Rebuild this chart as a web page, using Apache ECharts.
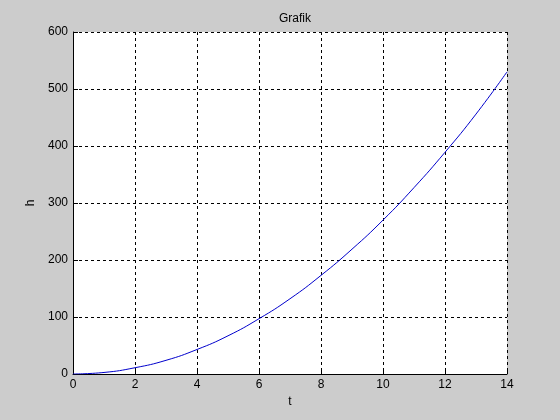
<!DOCTYPE html>
<html>
<head>
<meta charset="utf-8">
<script src="https://cdn.jsdelivr.net/npm/echarts@6/dist/echarts.min.js"></script>
<style>
    html, body { margin: 0; padding: 0; background: #cccccc; }
    #chart { width: 560px; height: 420px; }
</style>
</head>
<body>
<div id="chart"></div>
<script>
// values
const tValues = [0, 1, 2, 3, 4, 5, 6, 7, 8, 9, 10, 11, 12, 13, 14];
const hValues = [0, 2.7, 11, 24, 43, 67, 97, 132, 173, 219, 270, 327, 389, 456, 530];
const xTicks = [0, 2, 4, 6, 8, 10, 12, 14];
const yTicks = [0, 100, 200, 300, 400, 500, 600];

const font = 'Liberation Sans, Arial, sans-serif';
const chart = echarts.init(document.getElementById('chart'));

const dashed = { show: true, lineStyle: { color: '#000', type: [3, 3], width: 1 } };

chart.setOption({
    backgroundColor: '#cccccc',
    animation: false,
    title: {
        text: 'Grafik',
        left: 290, top: 8, textAlign: 'center',
        textStyle: { fontFamily: font, fontSize: 12, fontWeight: 'normal', color: '#000' }
    },
    grid: { left: 73, right: 53, top: 32, bottom: 46, show: true, backgroundColor: '#fff', borderWidth: 0 },
    xAxis: {
        type: 'value', min: xTicks[0], max: xTicks[xTicks.length - 1], interval: 2,
        name: 't', nameLocation: 'middle', nameGap: 22,
        nameTextStyle: { fontFamily: font, fontSize: 12, color: '#000' },
        axisLine: { lineStyle: { color: '#000', width: 1 } },
        axisTick: { inside: true, length: 5, lineStyle: { color: '#000' } },
        axisLabel: { fontFamily: font, fontSize: 12, color: '#000', margin: 5 },
        splitLine: dashed
    },
    yAxis: {
        type: 'value', min: yTicks[0], max: yTicks[yTicks.length - 1], interval: 100,
        name: 'h', nameLocation: 'middle', nameGap: 35,
        nameTextStyle: { fontFamily: font, fontSize: 12, color: '#000' },
        axisLine: { show: true, lineStyle: { color: '#000', width: 1 } },
        axisTick: { show: true, inside: true, length: 5, lineStyle: { color: '#000' } },
        axisLabel: { fontFamily: font, fontSize: 12, color: '#000', margin: 5 },
        splitLine: dashed
    },
    series: [{
        type: 'line',
        data: tValues.map((t, i) => [t, hValues[i]]),
        smooth: true,
        showSymbol: false,
        lineStyle: { color: '#0000cc', width: 1 }
    }]
});
</script>
</body>
</html>
